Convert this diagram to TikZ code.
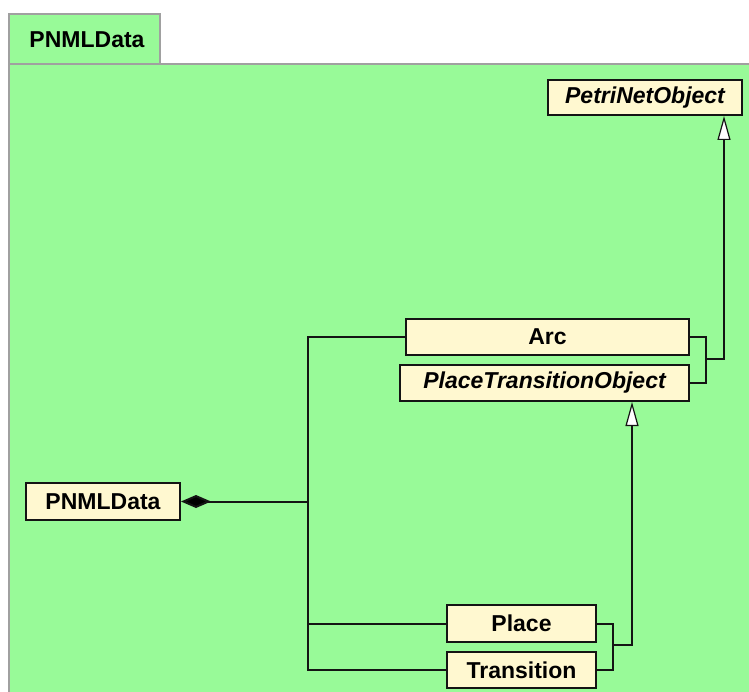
\documentclass[tikz,border=0pt]{standalone}
\usepackage{fontspec}
\setmainfont{Liberation Sans}
\usetikzlibrary{arrows.meta}
\definecolor{pkggreen}{RGB}{152,250,152}
\definecolor{frameborder}{RGB}{160,160,160}
\definecolor{classfill}{RGB}{255,248,208}
\definecolor{lineclr}{RGB}{20,20,20}
\tikzset{
  classbox/.style={draw=lineclr, line width=2pt, fill=classfill, inner sep=0pt,
    font=\fontsize{23}{27}\selectfont\bfseries, text=black},
  absbox/.style={classbox, font=\fontsize{23}{27}\selectfont\bfseries\itshape},
  conn/.style={draw=lineclr, line width=2pt},
  gen/.style={conn, -{Triangle[open, length=24pt, width=13pt, line width=1.2pt, fill=white]}},
  comp/.style={conn, {Diamond[length=30pt, width=13pt, fill=black]}-},
}
\begin{document}
\begin{tikzpicture}[x=1pt, y=-1pt]
\useasboundingbox (0,0) rectangle (749,692);
\fill[white] (0,0) rectangle (749,692);
% package frame
\fill[pkggreen] (9,64) rectangle (760,700);
\draw[frameborder, line width=2pt] (9,700) -- (9,64) -- (760,64);
\draw[frameborder, line width=2pt, fill=pkggreen] (9,64) rectangle (160,14);
\node[font=\fontsize{23}{27}\selectfont\bfseries] (tab) at (87,40) {PNMLData};
% classes
\node[absbox, minimum width=194pt, minimum height=35pt] (pno) at (645,97.5) {PetriNetObject};
\node[classbox, minimum width=283pt, minimum height=36pt] (arc) at (547.5,337) {Arc};
\node[absbox, minimum width=289pt, minimum height=36pt] (pto) at (544.5,383) {PlaceTransitionObject};
\node[classbox, minimum width=154pt, minimum height=37pt] (pnml) at (103,501.5) {PNMLData};
\node[classbox, minimum width=149pt, minimum height=37pt] (place) at (521.5,623.5) {Place};
\node[classbox, minimum width=149pt, minimum height=36pt] (trans) at (521.5,670) {Transition};
% composition
\coordinate (j1) at (308,501.5);
\draw[comp] (pnml.east) -- (j1);
\draw[conn] (arc.west) -| (j1);
\draw[conn] (trans.west) -| (j1);
\draw[conn] (place.west) -- (place.west -| j1);
% generalization to PetriNetObject
\coordinate (g1) at (706,359);
\draw[conn] (arc.east) -| (g1);
\draw[conn] (pto.east) -| (g1);
\draw[gen] (g1) -| ([xshift=-19pt]pno.south east);
% generalization to PlaceTransitionObject
\coordinate (g2) at (613,645);
\draw[conn] (place.east) -| (g2);
\draw[conn] (trans.east) -| (g2);
\draw[gen] (g2) -| ([xshift=-58pt]pto.south east);
\end{tikzpicture}
\end{document}
